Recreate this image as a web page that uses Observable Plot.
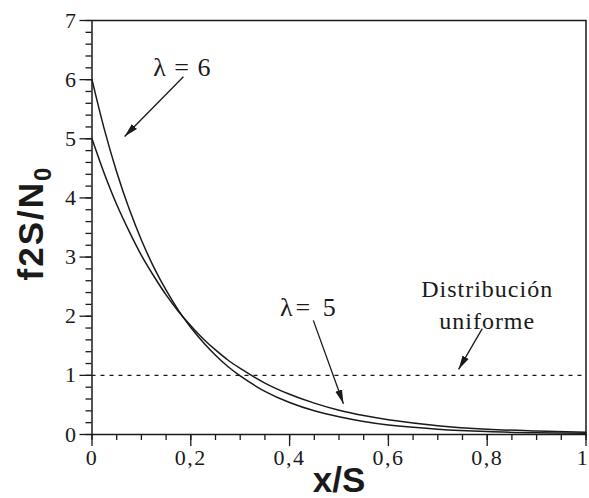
<!DOCTYPE html>
<html><head><meta charset="utf-8">
<script src="https://cdn.jsdelivr.net/npm/d3@7"></script>
<script src="https://cdn.jsdelivr.net/npm/@observablehq/plot@0.6"></script>
<style>body{margin:0;background:#fff}</style>
</head><body><div id="chart"></div>
<script>
// x/s sample positions
const xs      = [0, 0.025, 0.05, 0.075, 0.1, 0.125, 0.15, 0.175, 0.2, 0.225, 0.25, 0.275, 0.3, 0.35, 0.4, 0.45, 0.5, 0.55, 0.6, 0.7, 0.8, 0.9, 1.0];
// f2s/N0 for lambda = 6
const lambda6 = [6.00, 5.16, 4.44, 3.82, 3.29, 2.83, 2.44, 2.10, 1.81, 1.56, 1.34, 1.15, 0.99, 0.73, 0.54, 0.40, 0.30, 0.22, 0.16, 0.09, 0.05, 0.03, 0.02];
// f2s/N0 for lambda = 5
const lambda5 = [5.00, 4.41, 3.89, 3.44, 3.03, 2.68, 2.36, 2.08, 1.84, 1.62, 1.43, 1.26, 1.12, 0.87, 0.68, 0.53, 0.41, 0.32, 0.25, 0.15, 0.09, 0.06, 0.04];
const uniformLevel = [1];

const xMajor = [0, 0.2, 0.4, 0.6, 0.8, 1];
const xTickLabels = ["0", "0,2", "0,4", "0,6", "0,8", "1"];
const xMinor = [0,0.05,0.1,0.15,0.2,0.25,0.3,0.35,0.4,0.45,0.5,0.55,0.6,0.65,0.7,0.75,0.8,0.85,0.9,0.95,1];
const yMajor = [0, 1, 2, 3, 4, 5, 6, 7];
const yTickLabels = ["0", "1", "2", "3", "4", "5", "6", "7"];
const yMinor = [0,0.2,0.4,0.6,0.8,1,1.2,1.4,1.6,1.8,2,2.2,2.4,2.6,2.8,3,3.2,3.4,3.6,3.8,4,4.2,4.4,4.6,4.8,5,5.2,5.4,5.6,5.8,6,6.2,6.4,6.6,6.8,7];

// annotation texts (data coordinates)
const labelTexts = ["λ = 6", "λ= 5", "Distribución", "uniforme"];
const labelX     = [0.183, 0.44, 0.80, 0.80];
const labelY     = [6.06, 2.01, 2.32, 1.79];
const labelSize  = [26, 26, 24, 24];
const labelSpace = [1, 3, 1, 1];
// arrows
const arrowX1 = [0.185, 0.448, 0.790];
const arrowY1 = [6.05, 1.93, 1.79];
const arrowX2 = [0.066, 0.509, 0.742];
const arrowY2 = [5.04, 0.52, 1.10];

const curveData = [
  ...xs.map((x, i) => ({x, y: lambda6[i], s: "6"})),
  ...xs.map((x, i) => ({x, y: lambda5[i], s: "5"}))
];
const labels = labelTexts.map((t, i) => ({t, x: labelX[i], y: labelY[i], size: labelSize[i], ls: labelSpace[i]}));
const arrows = arrowX1.map((d, i) => ({x1: d, y1: arrowY1[i], x2: arrowX2[i], y2: arrowY2[i]}));

function arrowHead(color, context) {
  const doc = (context && context.document) || document;
  const ns = "http://www.w3.org/2000/svg";
  const m = doc.createElementNS(ns, "marker");
  m.setAttribute("viewBox", "-14 -4 14 8");
  m.setAttribute("markerWidth", "14");
  m.setAttribute("markerHeight", "8");
  m.setAttribute("markerUnits", "userSpaceOnUse");
  m.setAttribute("orient", "auto");
  m.setAttribute("refX", "0");
  m.setAttribute("refY", "0");
  const p = doc.createElementNS(ns, "path");
  p.setAttribute("d", "M-14,-3.5L0,0L-14,3.5Z");
  p.setAttribute("fill", color);
  p.setAttribute("stroke", "none");
  m.appendChild(p);
  return m;
}

const ink = "#1a1a1a";
const serif = "Liberation Serif, Times New Roman, serif";

const chart = Plot.plot({
  width: 589,
  height: 498,
  marginLeft: 91.5,
  marginRight: 3.5,
  marginTop: 20,
  marginBottom: 64,
  style: {background: "#fff", color: ink, fontFamily: serif},
  x: {domain: [0, 1]},
  y: {domain: [0, 7]},
  marks: [
    Plot.axisY({ticks: yMinor, tickSize: 6, fill: "none", label: null, stroke: ink, strokeWidth: 1.3}),
    Plot.axisY({ticks: yMajor, tickSize: 12, tickPadding: 4, tickFormat: (d, i) => yTickLabels[i], label: null,
      fontSize: 22, fontFamily: serif, stroke: ink, strokeWidth: 1.3}),
    Plot.axisX({ticks: xMinor, tickSize: 6, fill: "none", label: null, stroke: ink, strokeWidth: 1.3}),
    Plot.axisX({ticks: xMajor, tickSize: 12, tickPadding: 3, tickFormat: (d, i) => xTickLabels[i], label: null,
      fontSize: 22, fontFamily: serif, stroke: ink, strokeWidth: 1.3}),
    Plot.ruleY(uniformLevel, {stroke: ink, strokeWidth: 1.2, strokeDasharray: "4,5"}),
    Plot.line(curveData, {x: "x", y: "y", z: "s", curve: "catmull-rom", stroke: ink, strokeWidth: 1.5}),
    Plot.link(arrows, {x1: "x1", y1: "y1", x2: "x2", y2: "y2", stroke: ink, strokeWidth: 1.3, markerEnd: arrowHead}),
    ...labels.map(l => Plot.text([l], {x: "x", y: "y", text: "t", fontSize: l.size, fontFamily: serif, fill: ink,
      textAnchor: "middle", lineAnchor: "bottom"})),
    Plot.text(["x/S"], {frameAnchor: "bottom", dy: 57, text: d => d, fontSize: 35, fontWeight: "bold",
      fontFamily: "Liberation Sans, Arial, sans-serif", fill: ink, lineAnchor: "bottom"}),
    Plot.frame({stroke: ink, strokeWidth: 1.5})
  ]
});

const svg = d3.select(chart);
// letter spacing for annotation texts and x tick labels
svg.selectAll("g[aria-label='text']").each(function(_, i) {
  if (i < labels.length) d3.select(this).attr("letter-spacing", labels[i].ls);
});
const xLab = svg.selectAll("g[aria-label='x-axis tick label']").attr("letter-spacing", 1.5);
// keep the last x tick label ("1") inside the picture, as in the reference
xLab.selectAll("text").filter((d, i, n) => i === n.length - 1).attr("dx", -3);

// y-axis title with subscript
const yl = svg.append("text")
  .attr("transform", "translate(43,223) rotate(-90)")
  .attr("text-anchor", "middle")
  .attr("font-family", "Liberation Sans, Arial, sans-serif")
  .attr("font-weight", "bold")
  .attr("font-size", 35)
  .attr("letter-spacing", 2)
  .attr("fill", ink);
yl.append("tspan").text("f2S/N");
yl.append("tspan").attr("font-size", 24).attr("dy", 8).text("0");

document.getElementById("chart").appendChild(chart);
</script>
</body></html>
